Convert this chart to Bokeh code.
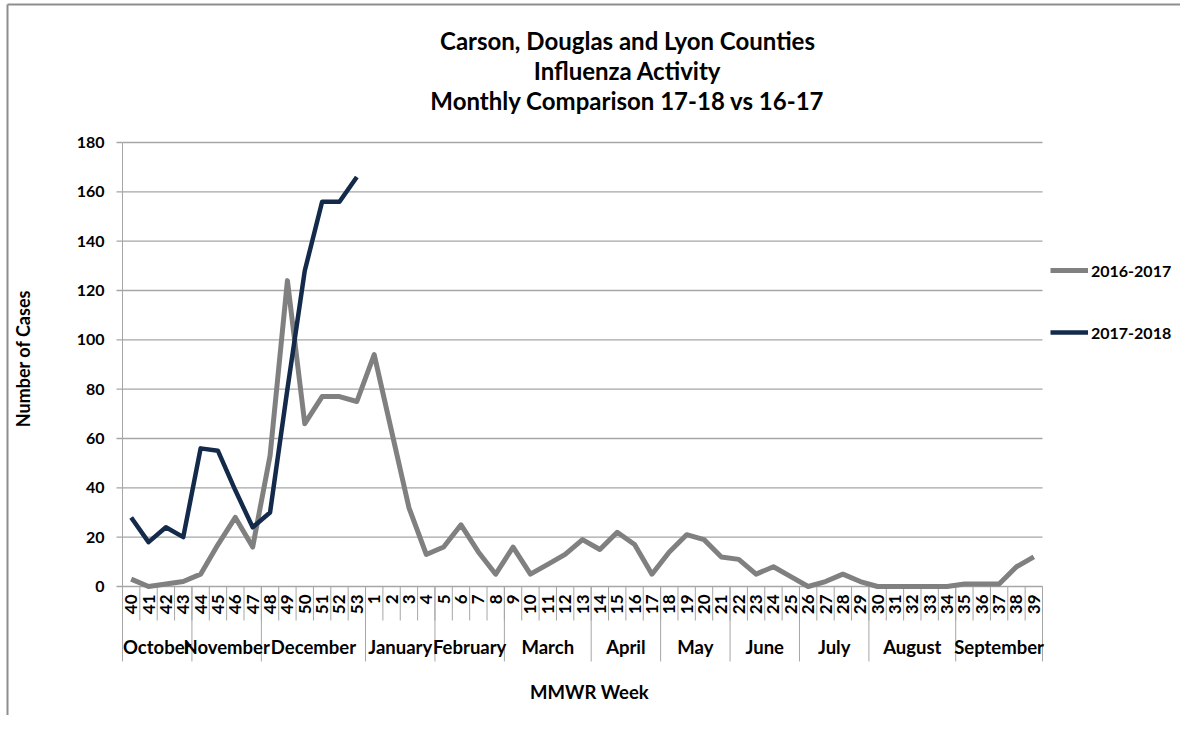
import math
from bokeh.plotting import figure
from bokeh.models import Range1d, Legend, LegendItem
from bokeh.core.properties import value
from bokeh.embed import file_html
from bokeh.resources import INLINE

# ---------------- data ----------------
weeks = ["40", "41", "42", "43", "44", "45", "46", "47", "48", "49", "50", "51", "52", "53",
         "1", "2", "3", "4", "5", "6", "7", "8", "9", "10", "11", "12", "13",
         "14", "15", "16", "17", "18", "19", "20", "21", "22", "23", "24", "25",
         "26", "27", "28", "29", "30", "31", "32", "33", "34", "35", "36", "37", "38", "39"]
months = ["October", "November", "December", "January", "February", "March",
          "April", "May", "June", "July", "August", "September"]
month_week_counts = [4, 4, 6, 4, 4, 5, 4, 4, 4, 4, 5, 5]
cases_2016_2017 = [3, 0, 1, 2, 5, 17, 28, 16, 53, 124, 66, 77, 77, 75,
                   94, 63, 32, 13, 16, 25, 14, 5, 16, 5, 9, 13, 19,
                   15, 22, 17, 5, 14, 21, 19, 12, 11, 5, 8, 4,
                   0, 2, 5, 2, 0, 0, 0, 0, 0, 1, 1, 1, 8, 12]
cases_2017_2018 = [28, 18, 24, 20, 56, 55, 39, 24, 30, 80, 128, 156, 156, 166]
y_ticks = [0, 20, 40, 60, 80, 100, 120, 140, 160, 180]
y_tick_labels = ["0", "20", "40", "60", "80", "100", "120", "140", "160", "180"]
series_names = ["2016-2017", "2017-2018"]
title_lines = ["Carson, Douglas and Lyon Counties", "Influenza Activity",
               "Monthly Comparison 17-18 vs 16-17"]
x_title = "MMWR Week"
y_title = "Number of Cases"

# ---------------- layout (pixels of the picture) ----------------
FONT = value("Lato")
GRID = "#A6A6A6"
BORDER = "#8E8E8E"
GRAY = "#808080"
NAVY = "#132A4A"

W, H = 1180, 715
LEFT_PX, RIGHT_PX = 122, 1042     # plot area
TOP_PX, ZERO_PX = 142, 586
Y_MAX = y_ticks[-1]
CAT_PX = (RIGHT_PX - LEFT_PX) / len(weeks)
PPU = (ZERO_PX - TOP_PX) / Y_MAX


def X(px):
    return (px - LEFT_PX) / CAT_PX


def Y(py):
    return (ZERO_PX - py) / PPU


p = figure(width=W, height=H, output_backend="svg", toolbar_location=None,
           x_range=Range1d(X(0), X(W)), y_range=Range1d(Y(H), Y(0)),
           min_border_left=0, min_border_right=0, min_border_top=0, min_border_bottom=0)
p.outline_line_color = None
p.background_fill_color = "white"
p.border_fill_color = "white"
p.xaxis.visible = False
p.yaxis.visible = False
p.xgrid.visible = False
p.ygrid.visible = False

n = len(weeks)
xc = [i + 0.5 for i in range(n)]

# outer chart border (left and top)
p.segment(x0=[X(7), X(7)], y0=[Y(4), Y(4)], x1=[X(7), X(W)], y1=[Y(H), Y(4)],
          line_color=BORDER, line_width=2)

# horizontal gridlines over the category span
p.segment(x0=[0] * len(y_ticks), y0=y_ticks, x1=[n] * len(y_ticks), y1=y_ticks,
          line_color=GRID, line_width=1.3)
# y tick marks
p.segment(x0=[X(116)] * len(y_ticks), y0=y_ticks, x1=[0] * len(y_ticks), y1=y_ticks,
          line_color=GRID, line_width=1.3)
# y tick labels
p.text(x=[X(104)] * len(y_ticks), y=y_ticks, text=y_tick_labels, text_align="right",
       text_baseline="middle", text_font=FONT, text_font_style="bold",
       text_font_size="16px", text_color="black")

# week tick separators (first one is the vertical axis line)
bounds = list(range(n + 1))
p.segment(x0=bounds, y0=[Y_MAX if b == 0 else 0 for b in bounds], x1=bounds,
          y1=[Y(620)] * len(bounds), line_color=GRID, line_width=1)

# month separators
mb = [0]
for c in month_week_counts:
    mb.append(mb[-1] + c)
p.segment(x0=mb, y0=[0] * len(mb), x1=mb, y1=[Y(661)] * len(mb), line_color=GRID, line_width=1)

# week labels (rotated)
p.text(x=xc, y=[Y(594)] * n, text=weeks, angle=math.pi / 2,
       text_align="right", text_baseline="middle", text_font=FONT,
       text_font_style="bold", text_font_size="17px", text_color="black")

# month labels
mc = [(mb[i] + mb[i + 1]) / 2 for i in range(len(months))]
p.text(x=mc, y=[Y(646)] * len(mc), text=months, text_align="center",
       text_baseline="middle", text_font=FONT, text_font_style="bold",
       text_font_size="18.5px", text_color="black")

# series
r1 = p.line(xc, cases_2016_2017, line_color=GRAY, line_width=5, line_join="round")
r2 = p.line(xc[:len(cases_2017_2018)], cases_2017_2018, line_color=NAVY, line_width=4.5,
            line_join="round")

# titles
p.text(x=[X(627)] * 3, y=[Y(40), Y(70), Y(100)], text=title_lines, text_align="center",
       text_baseline="middle", text_font=FONT, text_font_style="bold",
       text_font_size="24px", text_color="black")
p.text(x=[X(589)], y=[Y(691)], text=[x_title], text_align="center",
       text_baseline="middle", text_font=FONT, text_font_style="bold",
       text_font_size="18.5px", text_color="black")
p.text(x=[X(22)], y=[Y(358)], text=[y_title], angle=math.pi / 2, text_align="center",
       text_baseline="middle", text_font=FONT, text_font_style="bold",
       text_font_size="18px", text_color="black")

legend = Legend(items=[LegendItem(label=series_names[0], renderers=[r1]),
                       LegendItem(label=series_names[1], renderers=[r2])],
                location=(1050, H - 342), orientation="vertical",
                glyph_width=38, glyph_height=20, label_height=20, label_standoff=3,
                spacing=42, padding=0, margin=0, border_line_color=None,
                background_fill_alpha=0, label_text_font="Lato",
                label_text_font_style="bold", label_text_font_size="16px",
                label_text_color="black")
p.add_layout(legend)

open("out.html", "w").write(file_html(p, INLINE))
